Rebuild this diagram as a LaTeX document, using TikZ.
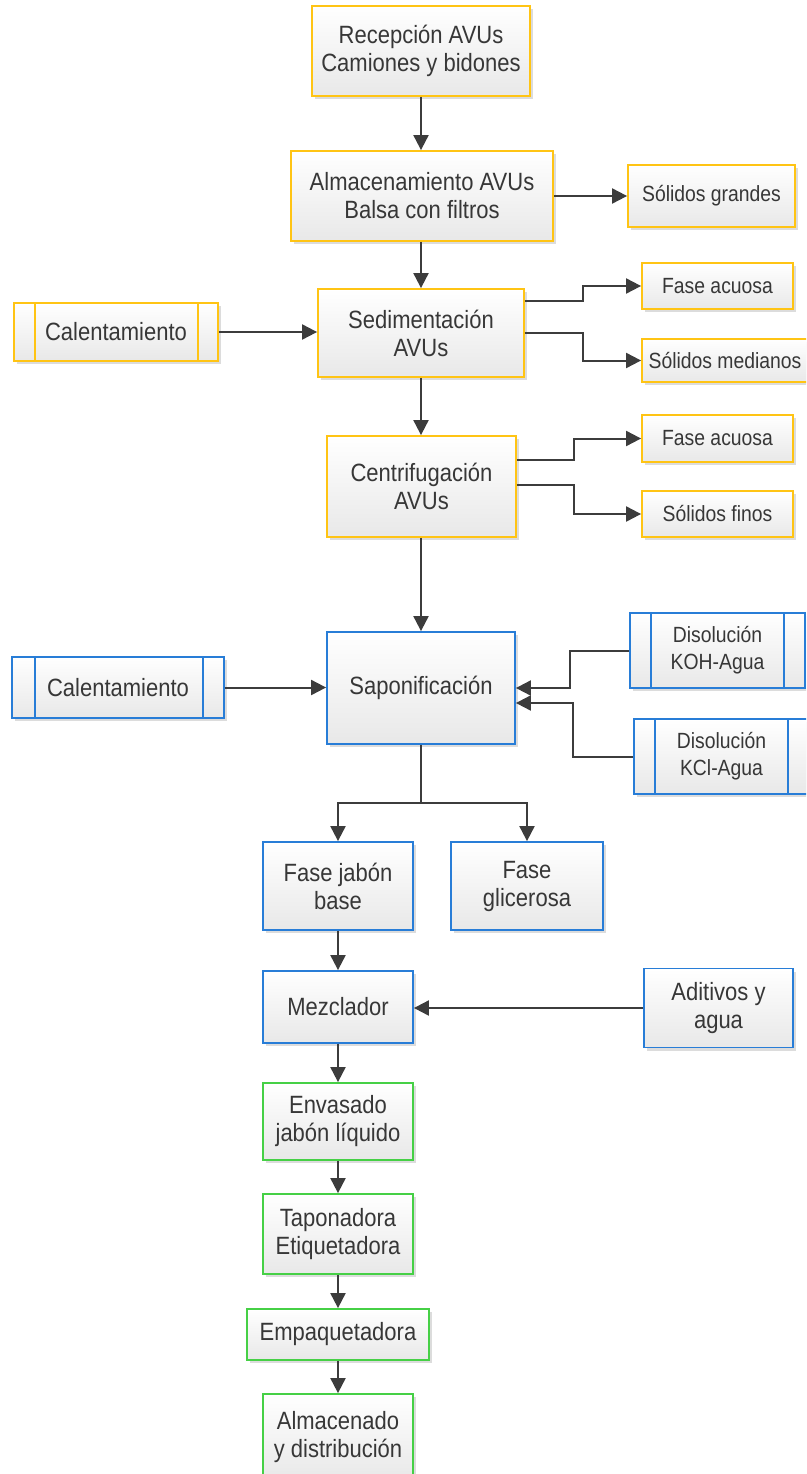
\documentclass[tikz,border=0pt]{standalone}
\usepackage{fontspec}
\setmainfont{Liberation Sans}[FakeStretch=0.88]
\usetikzlibrary{arrows.meta,shadows,calc}
\definecolor{yb}{RGB}{255,196,20}
\definecolor{bb}{RGB}{40,125,215}
\definecolor{gb}{RGB}{70,208,70}
\definecolor{ln}{RGB}{60,60,60}
\definecolor{tx}{RGB}{55,55,55}
\begin{document}
\begin{tikzpicture}[x=1pt,y=-1pt,
  box/.style={draw, line width=1.8pt, top color=white, bottom color=black!9, text=tx, align=center, inner sep=2pt,
    drop shadow={shadow xshift=3pt,shadow yshift=-3pt,opacity=0.3,fill=black!45},
    font=\fontsize{25}{28}\selectfont},
  ybox/.style={box, draw=yb},
  bbox/.style={box, draw=bb},
  gbox/.style={box, draw=gb},
  small/.style={font=\fontsize{22}{27}\selectfont},
  sz/.style n args={2}{minimum width=#1pt, minimum height=#2pt},
  arr/.style={draw=ln, line width=2pt, -{Triangle[length=15pt,width=15pt]}},
  bar/.style={line width=1.8pt},
]
\useasboundingbox (0,0) rectangle (806,1474);
\clip (0,0) rectangle (806,1474);

% yellow stage
\node[ybox, sz={218}{90}] (rec) at (421,51) {Recepción AVUs\\Camiones y bidones};
\node[ybox, sz={262}{90}] (alm) at (422,196) {Almacenamiento AVUs\\Balsa con filtros};
\node[ybox, small, sz={167}{62}] (sg) at (711.5,196) {Sólidos grandes};
\node[ybox, sz={204}{58}] (cal1) at (116,332) {Calentamiento};
\node[ybox, sz={206}{88}] (sed) at (421,333) {Sedimentación\\AVUs};
\node[ybox, small, sz={151}{46}] (fa1) at (717.5,286) {Fase acuosa};
\node[ybox, small, sz={166}{43}] (sm) at (725,360.5) {Sólidos medianos};
\node[ybox, sz={189}{101}] (cen) at (421.5,486.5) {Centrifugación\\AVUs};
\node[ybox, small, sz={151}{47}] (fa2) at (717.5,438.5) {Fase acuosa};
\node[ybox, small, sz={151}{46}] (sf) at (717.5,514) {Sólidos finos};

\draw[yb, bar] ([xshift=22pt]cal1.north west) -- ([xshift=22pt]cal1.south west);
\draw[yb, bar] ([xshift=-21pt]cal1.north east) -- ([xshift=-21pt]cal1.south east);

% blue stage
\node[bbox, sz={212}{61}] (cal2) at (118,687.5) {Calentamiento};
\node[bbox, sz={188}{112}] (sap) at (421,688) {Saponificación};
\node[bbox, small, sz={175}{75}] (koh) at (717.5,650.5) {Disolución\\KOH-Agua};
\node[bbox, small, sz={175}{75}] (kcl) at (721.5,756.5) {Disolución\\KCl-Agua};
\node[bbox, sz={150}{88}] (fjb) at (338,886) {Fase jabón\\base};
\node[bbox, sz={152}{88}] (fg) at (527,886) {Fase\\glicerosa};
\node[bbox, sz={150}{72}] (mez) at (338,1007) {Mezclador};
\node[bbox, sz={149}{79}] (adi) at (718.5,1008) {Aditivos y\\agua};

\draw[bb, bar] ([xshift=24pt]cal2.north west) -- ([xshift=24pt]cal2.south west);
\draw[bb, bar] ([xshift=-22pt]cal2.north east) -- ([xshift=-22pt]cal2.south east);
\draw[bb, bar] ([xshift=22pt]koh.north west) -- ([xshift=22pt]koh.south west);
\draw[bb, bar] ([xshift=-22pt]koh.north east) -- ([xshift=-22pt]koh.south east);
\draw[bb, bar] ([xshift=22pt]kcl.north west) -- ([xshift=22pt]kcl.south west);
\draw[bb, bar] ([xshift=-22pt]kcl.north east) -- ([xshift=-22pt]kcl.south east);

% green stage
\node[gbox, sz={150}{77}] (env) at (338,1121.5) {Envasado\\jabón líquido};
\node[gbox, sz={150}{80}] (tap) at (338,1234) {Taponadora\\Etiquetadora};
\node[gbox, sz={182}{51}] (emp) at (338,1334.5) {Empaquetadora};
\node[gbox, sz={150}{86}] (almd) at (338,1437) {Almacenado\\y distribución};

% connectors
\draw[arr] (rec.south) -- (alm.north -| rec.south);
\draw[arr] (alm.east) -- (sg.west);
\draw[arr] (alm.south -| sed.north) -- (sed.north);
\draw[arr] (cal1.east) -- (sed.west |- cal1.east);
\draw[arr] ($(sed.north east)+(0,13)$) -- ++(58,0) |- (fa1.west);
\draw[arr] (sed.east) -- ++(58,0) |- (sm.west);
\draw[arr] (sed.south) -- (cen.north -| sed.south);
\draw[arr] ($(cen.north east)+(0,25)$) -- ++(57,0) |- (fa2.west);
\draw[arr] ($(cen.east)+(0,-1.5)$) -- ++(57,0) |- (sf.west);
\draw[arr] (cen.south -| sap.north) -- (sap.north);
\draw[arr] (cal2.east) -- (sap.west |- cal2.east);
\draw[arr] (koh.west) -- ++(-59,0) |- (sap.east);
\draw[arr] (kcl.west) -- ++(-60,0) |- ($(sap.east)+(0,15)$);
\draw[arr] (sap.south) -- ++(0,58) -| (fjb.north);
\draw[arr] (sap.south) -- ++(0,58) -| (fg.north);
\draw[arr] (fjb.south) -- (mez.north);
\draw[arr] (adi.west) -- (mez.east |- adi.west);
\draw[arr] (mez.south) -- (env.north);
\draw[arr] (env.south) -- (tap.north);
\draw[arr] (tap.south) -- (emp.north);
\draw[arr] (emp.south) -- (almd.north);
\end{tikzpicture}
\end{document}
